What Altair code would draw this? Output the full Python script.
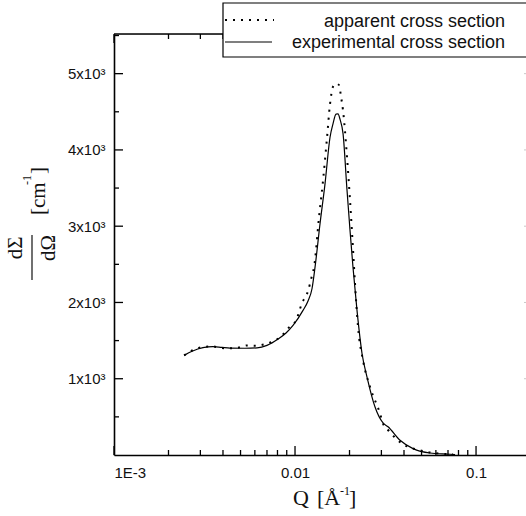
import altair as alt
import pandas as pd

# ---- data ----
q_exp = [0.00244, 0.0027, 0.0031, 0.00352, 0.00395, 0.00437, 0.00529, 0.00617, 0.0070,
         0.00806, 0.00892, 0.00975, 0.01107, 0.0118, 0.01241, 0.0129, 0.01375, 0.01465,
         0.01561, 0.01622, 0.01685, 0.01728, 0.01773, 0.01842, 0.01938, 0.02013, 0.02091,
         0.0220, 0.02346, 0.02499, 0.02767, 0.03064, 0.03265, 0.03803, 0.04487, 0.0557,
         0.0718, 0.0766]
i_exp = [1306, 1360, 1407, 1420, 1410, 1402, 1400, 1404, 1437,
         1520, 1600, 1699, 1896, 2020, 2180, 2463, 3035, 3559,
         4166, 4345, 4470, 4472, 4400, 4214, 3467, 2943, 2459,
         1896, 1328, 1022, 629, 420, 370, 193, 84, 26,
         10, 5]

q_app = [0.00244, 0.0027, 0.0031, 0.00348, 0.00385, 0.00432, 0.00484, 0.00543, 0.00609,
         0.00674, 0.00756, 0.00837, 0.00927, 0.01013, 0.01093, 0.0118, 0.01241, 0.01274,
         0.01357, 0.01428, 0.01503, 0.01561, 0.01622, 0.01685, 0.0175, 0.01795, 0.01842,
         0.01938, 0.02013, 0.02091, 0.02145, 0.02229, 0.02375, 0.02597, 0.02949, 0.03064,
         0.03306, 0.03661, 0.04054, 0.04721, 0.05362, 0.06324, 0.07463]
i_app = [1306, 1370, 1415, 1424, 1407, 1398, 1407, 1437, 1433,
         1450, 1490, 1555, 1673, 1765, 1991, 2150, 2354, 2463,
         3118, 3598, 4166, 4603, 4830, 4870, 4850, 4700, 4515,
         3904, 3337, 2700, 2245, 1677, 1241, 891, 542, 411,
         314, 202, 127, 71, 39, 18, 10]

x_major = [0.001, 0.01, 0.1]
x_minor = [0.002, 0.003, 0.004, 0.005, 0.006, 0.007, 0.008, 0.009,
           0.02, 0.03, 0.04, 0.05, 0.06, 0.07, 0.08, 0.09]
y_major = [1000, 2000, 3000, 4000, 5000]
y_minor = [500, 1500, 2500, 3500, 4500, 5500]

series_names = ["apparent cross section", "experimental cross section"]

W, H = 412, 421
xs = alt.Scale(type="log", domain=[0.001, 0.1888], nice=False)
ys = alt.Scale(domain=[0, 5520], nice=False, zero=False)

df_exp = pd.DataFrame({"Q": q_exp, "I": i_exp})
df_app = pd.DataFrame({"Q": q_app, "I": i_app})
one = pd.DataFrame({"a": [0]})

x_axis = alt.Axis(values=x_major, ticks=False, tickSize=0, grid=False, domain=True,
                  domainColor="black", domainWidth=1.6, labelPadding=10,
                  labelFont="Liberation Sans", labelFontSize=15, labelColor="#111",
                  labelExpr="datum.value < 0.005 ? '1E-3' : (datum.value < 0.05 ? '0.01' : '0.1')",
                  title=None)
y_axis = alt.Axis(values=y_major, ticks=False, tickSize=0, grid=False, domain=True,
                  domainColor="black", domainWidth=1.6, labelPadding=9,
                  labelFont="Liberation Sans", labelFontSize=15, labelColor="#111",
                  labelExpr="(datum.value/1000) + 'x10³'", title=None)

solid = alt.Chart(df_exp).mark_line(color="black", strokeWidth=1.2, interpolate="monotone").encode(
    x=alt.X("Q:Q", scale=xs, axis=x_axis),
    y=alt.Y("I:Q", scale=ys, axis=y_axis),
)
dotted = alt.Chart(df_app).mark_line(color="black", strokeWidth=2, strokeDash=[2, 6],
                                     strokeCap="butt", interpolate="monotone").encode(
    x=alt.X("Q:Q", scale=xs),
    y=alt.Y("I:Q", scale=ys),
)

# ticks pointing inside
dfxM = pd.DataFrame({"t": x_major})
dfxm = pd.DataFrame({"t": x_minor})
dfyM = pd.DataFrame({"t": y_major})
dfym = pd.DataFrame({"t": y_minor})
tk = dict(color="black", strokeWidth=1.3)
bx_major = alt.Chart(dfxM).mark_rule(**tk).encode(x=alt.X("t:Q", scale=xs), y=alt.value(H), y2=alt.value(H - 9))
bx_minor = alt.Chart(dfxm).mark_rule(**tk).encode(x=alt.X("t:Q", scale=xs), y=alt.value(H), y2=alt.value(H - 5))
tx_major = alt.Chart(dfxM).mark_rule(**tk).encode(x=alt.X("t:Q", scale=xs), y=alt.value(0), y2=alt.value(9))
tx_minor = alt.Chart(dfxm).mark_rule(**tk).encode(x=alt.X("t:Q", scale=xs), y=alt.value(0), y2=alt.value(5))
ly_major = alt.Chart(dfyM).mark_rule(**tk).encode(y=alt.Y("t:Q", scale=ys), x=alt.value(0), x2=alt.value(9))
ly_minor = alt.Chart(dfym).mark_rule(**tk).encode(y=alt.Y("t:Q", scale=ys), x=alt.value(0), x2=alt.value(5))
ry_major = alt.Chart(dfyM).mark_rule(color="#c8c8c8", strokeWidth=1).encode(
    y=alt.Y("t:Q", scale=ys), x=alt.value(W - 2), x2=alt.value(W))

top_line = alt.Chart(one).mark_rule(color="black", strokeWidth=1.6).encode(
    x=alt.value(0), x2=alt.value(W), y=alt.value(0))

# legend box
leg_box = alt.Chart(one).mark_rect(fill="white", stroke="black", strokeWidth=1.2).encode(
    x=alt.value(109), x2=alt.value(430), y=alt.value(-31), y2=alt.value(23))
leg_dot = alt.Chart(one).mark_rule(color="black", strokeWidth=2, strokeDash=[2, 6], strokeCap="butt").encode(
    x=alt.value(111), x2=alt.value(160), y=alt.value(-14))
leg_sol = alt.Chart(one).mark_rule(color="black", strokeWidth=1.2).encode(
    x=alt.value(111), x2=alt.value(158), y=alt.value(8))
leg_t1 = alt.Chart(one).mark_text(text=series_names[0], font="Liberation Sans", fontSize=18,
                                  align="right", baseline="alphabetic", color="#111").encode(
    x=alt.value(391), y=alt.value(-7.5))
leg_t2 = alt.Chart(one).mark_text(text=series_names[1], font="Liberation Sans", fontSize=18,
                                  align="right", baseline="alphabetic", color="#111").encode(
    x=alt.value(391), y=alt.value(13.5))


def txt(s, x, y, size, angle=0, align="left"):
    kw = dict(text=s, font="Liberation Serif", color="#111", fontSize=size,
              align=align, baseline="alphabetic")
    if angle:
        kw["angle"] = angle
    return alt.Chart(one).mark_text(**kw).encode(x=alt.value(x), y=alt.value(y))


# x title: Q [Å^-1]
xt_q = txt("Q", 179, 471, 22)
xt_b = txt("[Å", 203, 471, 22)
xt_s = txt("-1", 226, 461, 12)
xt_c = txt("]", 235, 471, 22)

# y title: dΣ/dΩ [cm^-1]
num = txt("dΣ", -92, 214, 21, angle=270, align="center")
den = txt("dΩ", -59, 214, 21, angle=270, align="center")
bar = alt.Chart(one).mark_rule(color="#111", strokeWidth=1.2).encode(
    x=alt.value(-82), y=alt.value(201), y2=alt.value(246))
u1 = txt("[cm", -69, 181, 21, angle=270, align="left")
u2 = txt("-1", -83, 151, 12, angle=270, align="left")
u3 = txt("]", -69, 140, 21, angle=270, align="left")

chart = alt.layer(
    solid, dotted,
    bx_major, bx_minor, tx_major, tx_minor, ly_major, ly_minor, ry_major,
    top_line,
    leg_box, leg_dot, leg_sol, leg_t1, leg_t2,
    xt_q, xt_b, xt_s, xt_c, num, den, bar, u1, u2, u3,
).properties(
    width=W, height=H,
    autosize=alt.AutoSizeParams(type="none"),
    padding={"left": 114, "top": 34, "right": 0, "bottom": 61},
).configure_view(stroke=None).configure(background="white")

chart.save("out.html", embed_options={"renderer": "svg", "actions": False})
